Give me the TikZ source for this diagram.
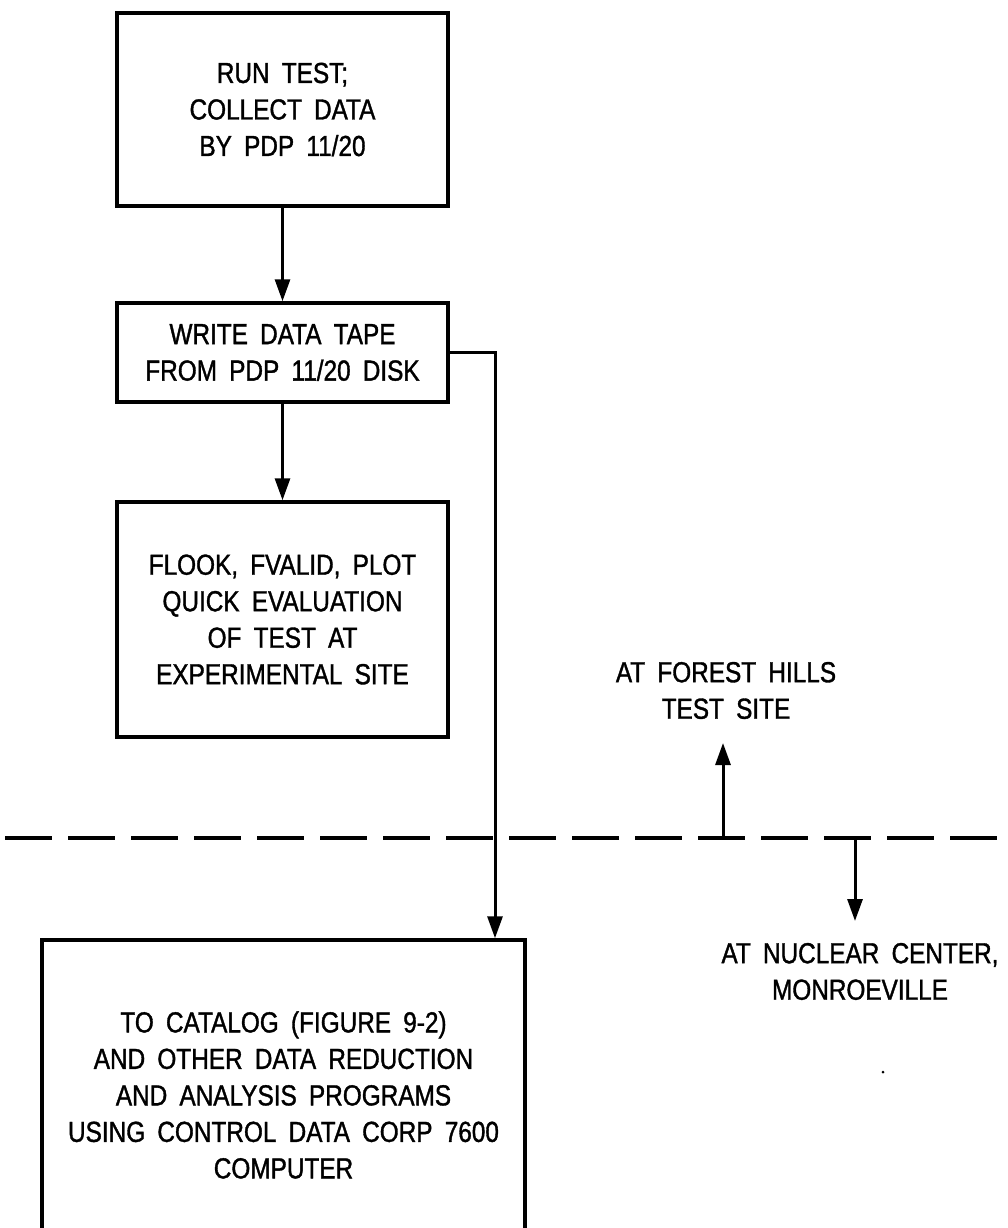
\documentclass[tikz,border=0pt]{standalone}
\usepackage{fontspec}
\setmainfont{Liberation Sans}[FakeStretch=0.84, WordSpace=1.8, FakeBold=1.2]
\usetikzlibrary{arrows.meta}
\tikzset{
  box/.style={draw, line width=3.5pt, align=center, inner sep=0pt},
  arr/.style={line width=3pt, -{Triangle[length=22pt,width=15pt]}},
  lbl/.style={align=center, inner sep=0pt},
  sep/.style={line width=3.5pt, dash pattern=on 47pt off 16pt}
}
\begin{document}
\begin{tikzpicture}[x=1pt, y=-1pt, font=\fontsize{29}{36.5}\selectfont]
\useasboundingbox (0,0) rectangle (1007,1228);
\clip (0,0) rectangle (1007,1228);

\node[box, minimum width=331pt, minimum height=193pt] (b1) at (282.5,109.5)
  {RUN TEST;\\COLLECT DATA\\BY PDP 11/20};
\node[box, minimum width=331pt, minimum height=99pt] (b2) at (282.5,352.5)
  {WRITE DATA TAPE\\FROM PDP 11/20 DISK};
\node[box, minimum width=331pt, minimum height=235pt] (b3) at (282.5,619.5)
  {FLOOK, FVALID, PLOT\\QUICK EVALUATION\\OF TEST AT\\EXPERIMENTAL SITE};
\node[box, minimum width=483pt, minimum height=310pt] (b4) at (283.5,1095)
  {TO CATALOG (FIGURE 9-2)\\AND OTHER DATA REDUCTION\\AND ANALYSIS PROGRAMS\\USING CONTROL DATA CORP 7600\\COMPUTER};

\node[lbl] (fh) at (726,690.5) {AT FOREST HILLS\\TEST SITE};
\node[lbl] (nc) at (860,971.5) {AT NUCLEAR CENTER,\\MONROEVILLE};

\draw[arr] (b1.south) -- (b2.north);
\draw[arr] (b2.south) -- (b3.north);
\draw[arr] (b2.east) -| ([xshift=211.5pt]b4.north);

\coordinate (dl) at (5,838);
\coordinate (dr) at (1010,838);
\draw[sep] (dl) -- (dr);

\coordinate (up0) at (723,838);
\coordinate (up1) at (723,743);
\coordinate (dn0) at (855,838);
\coordinate (dn1) at (855,921);
\draw[arr] (up0) -- (up1);
\draw[arr] (dn0) -- (dn1);

\fill (883,1072) circle (1.5pt);
\end{tikzpicture}
\end{document}
